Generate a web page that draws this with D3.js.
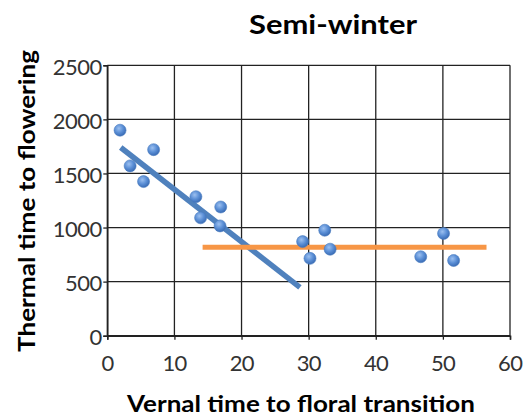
<!DOCTYPE html>
<html><head><meta charset="utf-8">
<script src="https://cdn.jsdelivr.net/npm/d3@7"></script>
<style>body{margin:0;background:#fff;}svg{display:block;}</style>
</head><body><svg id="c" width="525" height="416"></svg>
<script>
const title = "Semi-winter";
const xLabel = "Vernal time to floral transition";
const yLabel = "Thermal time to flowering";
const xTicks = [0,10,20,30,40,50,60];
const yTicks = [0,500,1000,1500,2000,2500];
const pointsX = [1.9,3.4,5.4,6.9,13.2,13.9,16.8,16.9,29.1,30.2,32.4,33.2,46.7,50.1,51.6];
const pointsY = [1900,1570,1425,1720,1285,1090,1015,1190,870,715,975,800,730,945,695];
const trendBlueX = [2.0,28.7];
const trendBlueY = [1740,447];
const trendOrangeX = [14.2,56.5];
const trendOrangeY = [818,818];

const svg = d3.select("#c");
const L=107.3,R=510,T=65.3,B=335.7;
const x = d3.scaleLinear().domain([0,60]).range([L,R]);
const y = d3.scaleLinear().domain([0,2500]).range([B,T]);

const defs = svg.append("defs");
const g = defs.append("radialGradient").attr("id","mk").attr("cx","40%").attr("cy","35%").attr("r","65%");
g.append("stop").attr("offset","0%").attr("stop-color","#9cc0f0");
g.append("stop").attr("offset","55%").attr("stop-color","#5b8fd6");
g.append("stop").attr("offset","100%").attr("stop-color","#3a6cb5");

// grid
svg.append("g").selectAll("line").data(yTicks).join("line")
  .attr("x1",L).attr("x2",R).attr("y1",d=>y(d)).attr("y2",d=>y(d))
  .attr("stroke","#222").attr("stroke-width",1.3);
svg.append("g").selectAll("line").data(xTicks).join("line")
  .attr("y1",T).attr("y2",B).attr("x1",d=>x(d)).attr("x2",d=>x(d))
  .attr("stroke","#222").attr("stroke-width",1.3);

// axes
const xa = svg.append("g").attr("transform",`translate(0,${B})`)
  .call(d3.axisBottom(x).tickValues(xTicks).tickSize(4).tickPadding(16));
const ya = svg.append("g").attr("transform",`translate(${L},0)`)
  .call(d3.axisLeft(y).tickValues(yTicks).tickSize(4).tickPadding(1).tickFormat(d3.format("d")));
[xa,ya].forEach(a=>{
  a.select(".domain").attr("stroke","#222").attr("stroke-width",1.5);
  a.selectAll(".tick line").attr("stroke","#222").attr("stroke-width",1.3);
  a.selectAll("text").attr("font-family","Lato, sans-serif").attr("font-size",22).attr("fill","#333");
});
xa.selectAll("text").attr("textLength",d=>String(d).length*12.4).attr("lengthAdjust","spacing");
ya.selectAll("text").attr("textLength",d=>String(d).length*12.4).attr("lengthAdjust","spacing").attr("dy","0.42em");

// trend lines
const line = d3.line().x(d=>x(d[0])).y(d=>y(d[1]));
svg.append("path").datum(d3.zip(trendBlueX,trendBlueY)).attr("d",line)
  .attr("stroke","#4f81bd").attr("stroke-width",5.5).attr("fill","none");
svg.append("path").datum(d3.zip(trendOrangeX,trendOrangeY)).attr("d",line)
  .attr("stroke","#f79646").attr("stroke-width",5).attr("fill","none");

// points
svg.append("g").selectAll("circle").data(d3.zip(pointsX,pointsY)).join("circle")
  .attr("cx",d=>x(d[0])).attr("cy",d=>y(d[1])).attr("r",6)
  .attr("fill","url(#mk)").attr("stroke","#4a7cc0").attr("stroke-width",0.6);

// titles
svg.append("text").attr("x",333).attr("y",34).attr("text-anchor","middle")
  .attr("font-family","Lato, sans-serif").attr("font-weight","bold").attr("font-size",27)
  .attr("textLength",168).attr("lengthAdjust","spacingAndGlyphs")
  .attr("fill","#000").text(title);
svg.append("text").attr("x",301).attr("y",411.5).attr("text-anchor","middle")
  .attr("font-family","Lato, sans-serif").attr("font-weight","bold").attr("font-size",23)
  .attr("textLength",348).attr("lengthAdjust","spacingAndGlyphs")
  .attr("fill","#000").text(xLabel);
svg.append("text").attr("transform","translate(35,201) rotate(-90)").attr("text-anchor","middle")
  .attr("font-family","Lato, sans-serif").attr("font-weight","bold").attr("font-size",23)
  .attr("textLength",302).attr("lengthAdjust","spacingAndGlyphs")
  .attr("fill","#000").text(yLabel);
</script></body></html>
